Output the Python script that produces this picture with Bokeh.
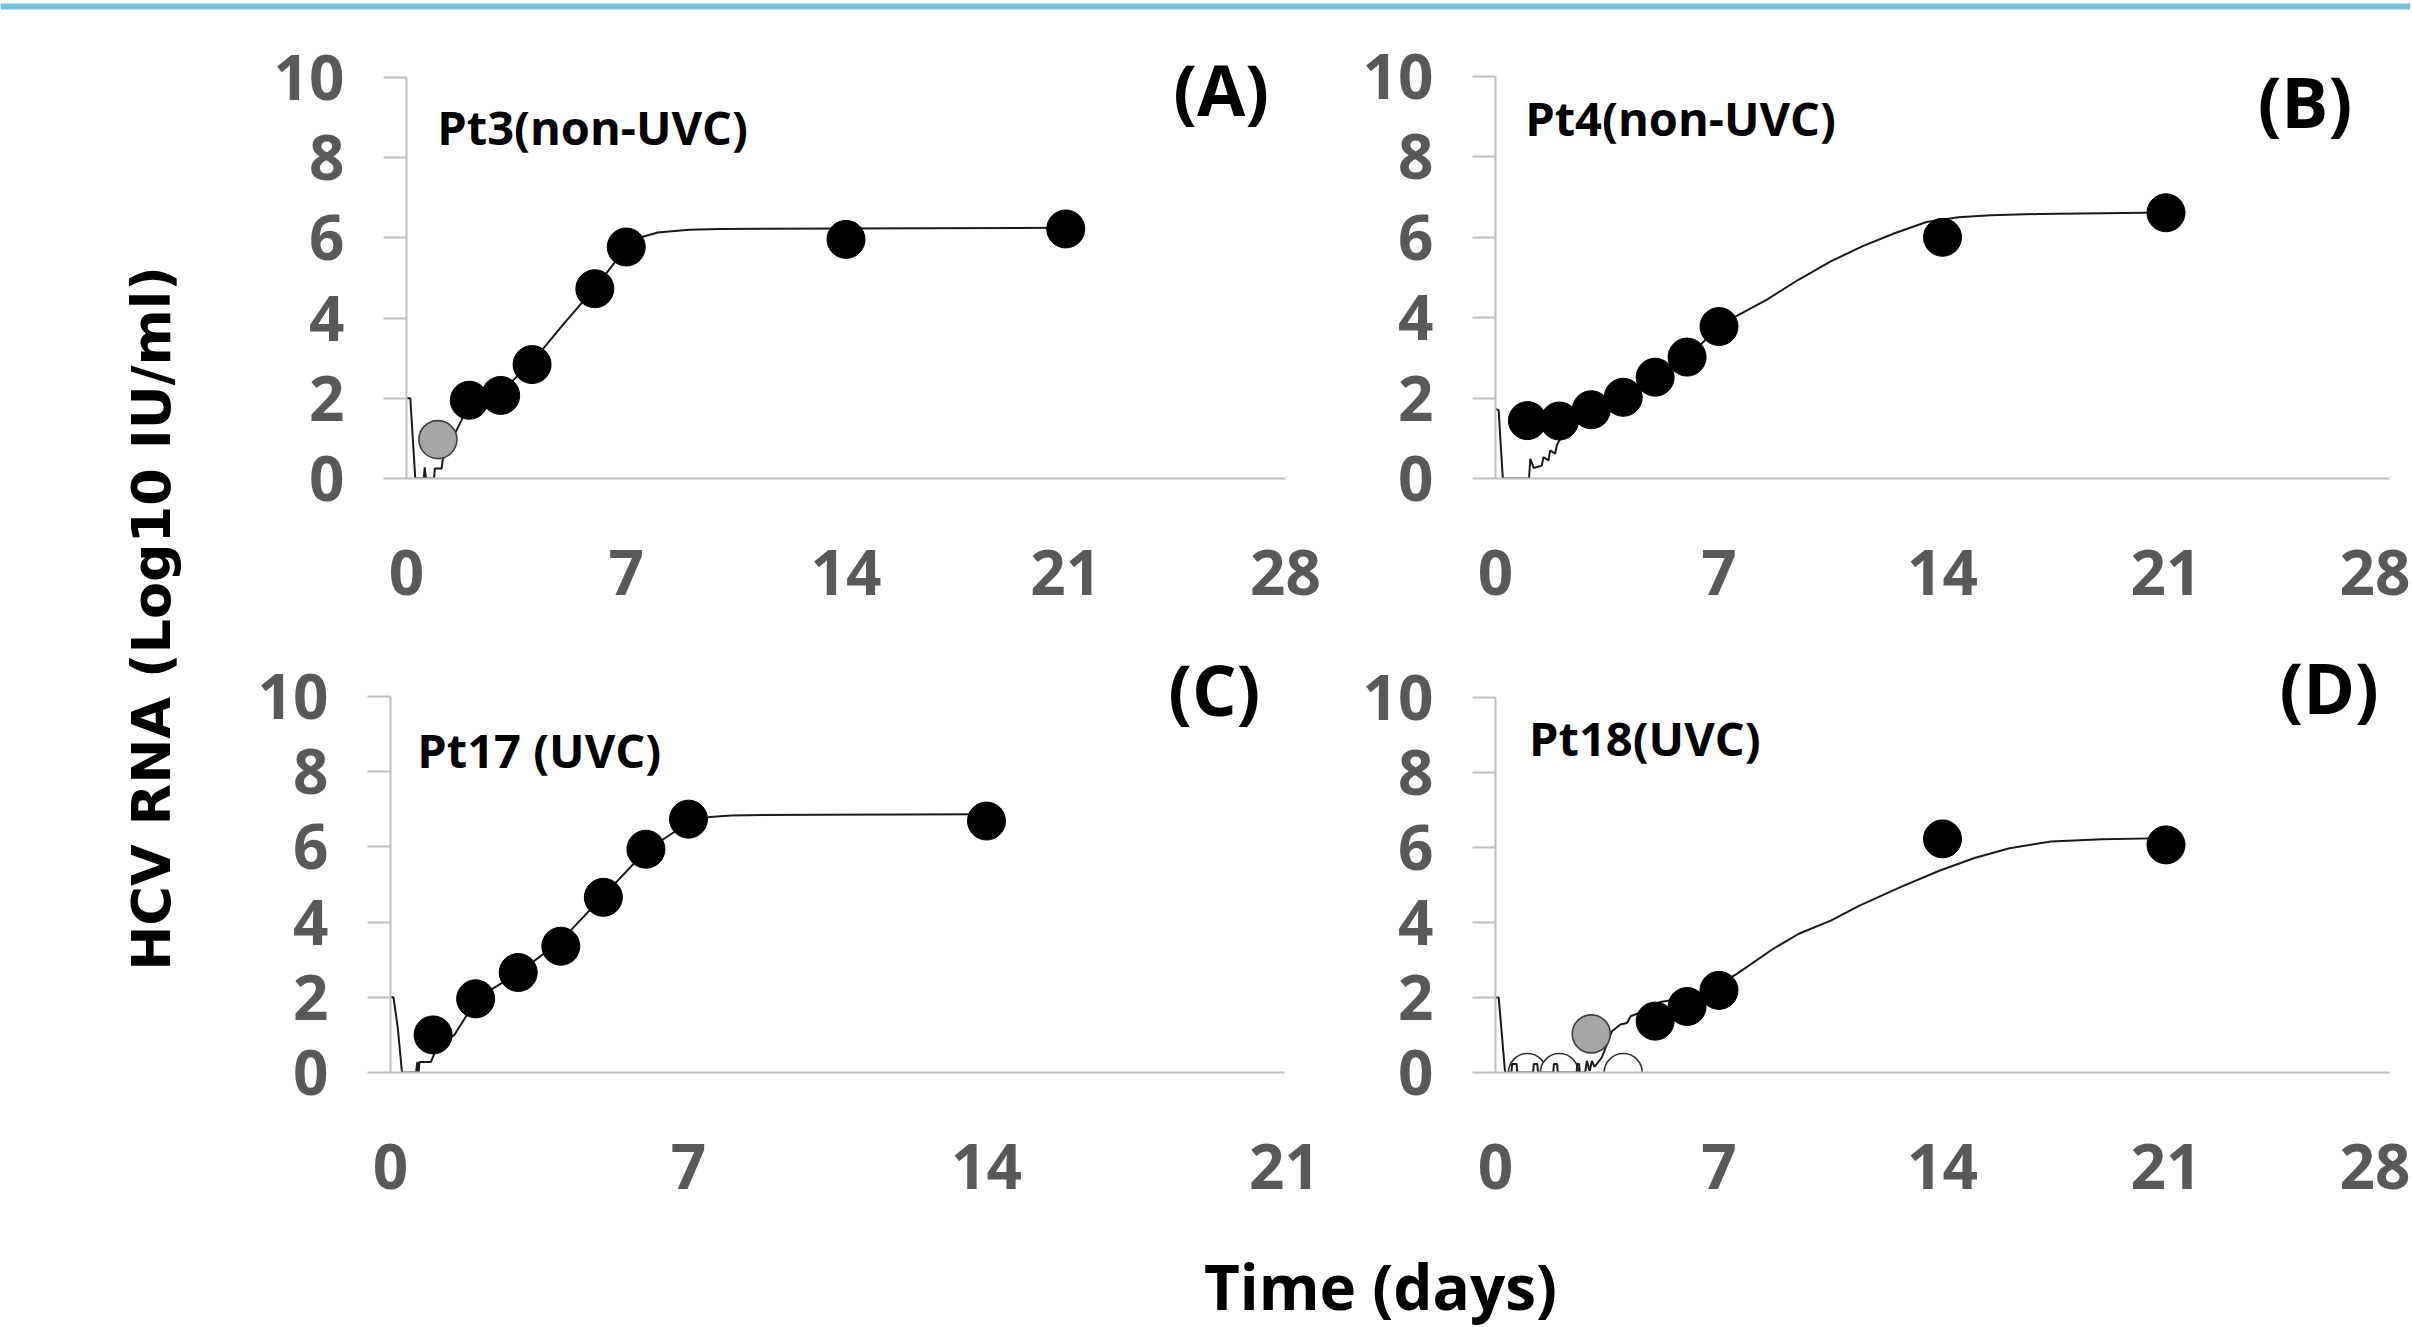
from bokeh.plotting import figure
from bokeh.layouts import column, row
from bokeh.models import Range1d, FixedTicker, Label, BoxAnnotation
from bokeh.embed import file_html
from bokeh.resources import INLINE

# ---------------- data ----------------
x_ticks_28 = [0, 7, 14, 21, 28]
x_ticks_21 = [0, 7, 14, 21]
y_ticks = [0, 2, 4, 6, 8, 10]

# Panel A  Pt3 (non-UVC)
a_black_x = [2, 3, 4, 6, 7, 14, 21]
a_black_y = [1.95, 2.07, 2.84, 4.73, 5.77, 5.96, 6.22]
a_gray_x = [1]
a_gray_y = [0.97]
a_curve_x = [0, 0.12, 0.28, 0.55, 0.58, 0.62, 0.88, 0.9, 1.12, 1.15, 1.4, 1.75, 2.0, 3.0, 4.0, 5.0, 6.0,
             7.0, 7.5, 8.0, 9.0, 10.0, 14.0, 21.0]
a_curve_y = [2.0, 2.0, 0.0, 0.0, 0.28, 0.0, 0.0, 0.25, 0.25, 0.45, 0.9, 1.45, 1.9, 2.15, 2.9, 3.85, 4.75,
             5.75, 6.02, 6.13, 6.2, 6.22, 6.23, 6.25]

# Panel B  Pt4 (non-UVC)
b_black_x = [1, 2, 3, 4, 5, 6, 7, 14, 21]
b_black_y = [1.44, 1.43, 1.71, 2.02, 2.52, 3.02, 3.78, 6.0, 6.61]
b_curve_x = [0, 0.1, 0.15, 0.23, 1.05, 1.09, 1.2, 1.45, 1.5, 1.66, 1.71, 1.87, 1.92, 2.0, 2.5, 3.0, 4.0,
             5.0, 6.0, 7.0, 7.5, 8.5, 9.5, 10.5, 11.5, 12.5, 13.5, 14.5, 15.5, 17.0, 19.0, 21.0]
b_curve_y = [1.73, 1.7, 1.0, 0.0, 0.0, 0.49, 0.26, 0.32, 0.53, 0.45, 0.7, 0.62, 0.82, 0.95, 1.3, 1.65,
             2.05, 2.5, 3.0, 3.78, 4.02, 4.45, 4.95, 5.4, 5.78, 6.1, 6.38, 6.5, 6.55, 6.58, 6.6, 6.62]

# Panel C  Pt17 (UVC)
c_black_x = [1, 2, 3, 4, 5, 6, 7, 14]
c_black_y = [1.0, 1.96, 2.66, 3.36, 4.66, 5.94, 6.74, 6.69]
c_curve_x = [0, 0.07, 0.17, 0.27, 0.6, 0.63, 0.66, 0.68, 0.95, 1.1, 1.5, 1.75, 2.0, 3.0, 4.0, 5.0, 6.0,
             7.0, 7.5, 8.0, 10.0, 14.0]
c_curve_y = [2.0, 2.0, 1.2, 0.0, 0.0, 0.28, 0.0, 0.28, 0.28, 0.7, 1.0, 1.45, 1.95, 2.65, 3.5, 4.7, 5.9,
             6.65, 6.8, 6.84, 6.86, 6.87]

# Panel D  Pt18 (UVC)
d_black_x = [5, 6, 7, 14, 21]
d_black_y = [1.37, 1.76, 2.19, 6.23, 6.07]
d_gray_x = [3]
d_gray_y = [1.03]
d_open_x = [1, 2, 4]
d_open_y = [0, 0, 0]
d_curve_x = [0, 0.1, 0.3, 0.5, 0.52, 0.66, 0.68, 1.18, 1.2, 1.31, 1.33, 1.81, 1.83, 1.93, 1.95, 2.54,
             2.56, 2.62, 2.64, 2.81, 2.86, 2.95, 3.02, 3.1, 3.33, 3.65, 3.91, 4.12, 4.23, 4.54, 4.75,
             5.17, 5.58, 6.0, 6.5, 7.0, 7.56, 8.7, 9.5, 10.5, 11.4, 12.7, 13.9, 15.0, 16.1, 17.4,
             19.0, 21.0]
d_curve_y = [2.0, 2.0, 0.0, 0.0, 0.23, 0.23, 0.0, 0.0, 0.23, 0.23, 0.0, 0.0, 0.23, 0.23, 0.0, 0.0,
             0.23, 0.23, 0.0, 0.0, 0.31, 0.04, 0.31, 0.15, 0.4, 1.1, 1.28, 1.32, 1.5, 1.6, 1.74,
             1.88, 1.94, 2.0, 2.15, 2.35, 2.63, 3.3, 3.7, 4.05, 4.45, 4.95, 5.38, 5.72, 5.98, 6.16,
             6.22, 6.25]

# ---------------- style ----------------
FONT = "Open Sans"
TICK_COLOR = "#595959"
AXIS_COLOR = "#BFBFBF"
BLUE = "#72C3E3"
MARKER = 38


def make_panel(width, height, bl, br, bt, bb, xmax, ymax, xticks,
               cx, cy, bx, by, gx=None, gy=None, ox=None, oy=None,
               name="", name_x=0, name_y=0, letter="", letter_x=0, letter_y=0):
    p = figure(width=width, height=height, output_backend="svg", toolbar_location=None,
               x_range=Range1d(0, xmax), y_range=Range1d(0, ymax),
               min_border_left=bl, min_border_right=br, min_border_top=bt, min_border_bottom=bb)
    p.outline_line_color = None
    p.grid.visible = False
    p.background_fill_color = "white"
    p.border_fill_color = "white"

    p.xaxis.ticker = FixedTicker(ticks=xticks)
    p.yaxis.ticker = FixedTicker(ticks=y_ticks)
    p.yaxis.bounds = (0, 10)
    for ax in (p.xaxis[0], p.yaxis[0]):
        ax.axis_line_color = AXIS_COLOR
        ax.axis_line_width = 2
        ax.major_tick_line_color = AXIS_COLOR
        ax.major_tick_line_width = 2
        ax.minor_tick_line_color = None
        ax.major_tick_in = 0
        ax.major_label_text_font = FONT
        ax.major_label_text_font_style = "bold"
        ax.major_label_text_font_size = "62px"
        ax.major_label_text_color = TICK_COLOR
    p.xaxis.major_tick_out = 0
    p.xaxis.major_label_standoff = 71
    p.yaxis.major_tick_out = 23
    p.yaxis.major_label_standoff = 39

    if ox is not None:
        p.scatter(ox, oy, size=MARKER, marker="circle", fill_color="white",
                  line_color="#333333", line_width=1.6)
    p.line(cx, cy, line_color="#1a1a1a", line_width=2)
    if gx is not None:
        p.scatter(gx, gy, size=MARKER, marker="circle", fill_color="#A6A6A6",
                  line_color="#404040", line_width=1.6)
    p.scatter(bx, by, size=MARKER, marker="circle", fill_color="black", line_color="black")

    p.add_layout(Label(x=name_x, y=name_y, text=name, text_font=FONT, text_font_style="bold",
                       text_font_size="47px", text_color="black", text_align="left",
                       text_baseline="alphabetic"))
    p.add_layout(Label(x=letter_x, y=letter_y, text=letter, text_font=FONT, text_font_style="bold",
                       text_font_size="70px", text_color="black", text_align="center",
                       text_baseline="alphabetic"))
    return p


# row 1: page y 20..630 ; row 2: page y 630..1240
pA = make_panel(1100, 610, 166, 55, 10, 150, 28, 450 / 40.3, x_ticks_28,
                a_curve_x, a_curve_y, a_black_x, a_black_y, gx=a_gray_x, gy=a_gray_y,
                name="Pt3(non-UVC)", name_x=0.98, name_y=8.76,
                letter="(A)", letter_x=25.95, letter_y=9.70)
pB = make_panel(1070, 610, 155, 21, 10, 152, 28, 448 / 40.2, x_ticks_28,
                b_curve_x, b_curve_y, b_black_x, b_black_y,
                name="Pt4(non-UVC)", name_x=0.93, name_y=8.98,
                letter="(B)", letter_x=25.35, letter_y=9.38)
pC = make_panel(1100, 610, 150, 56, 10, 161, 21, 439 / 38.2, x_ticks_21,
                c_curve_x, c_curve_y, c_black_x, c_black_y,
                name="Pt17 (UVC)", name_x=0.63, name_y=8.59,
                letter="(C)", letter_x=19.35, letter_y=10.21)
pD = make_panel(1070, 610, 155, 21, 10, 168, 28, 432 / 37.5, x_ticks_28,
                d_curve_x, d_curve_y, d_black_x, d_black_y, gx=d_gray_x, gy=d_gray_y,
                ox=d_open_x, oy=d_open_y,
                name="Pt18(UVC)", name_x=1.05, name_y=8.91,
                letter="(D)", letter_x=26.11, letter_y=10.27)


def blank(width, height):
    f = figure(width=width, height=height, output_backend="svg", toolbar_location=None,
               title=None, x_range=Range1d(0, width), y_range=Range1d(0, height),
               x_axis_type=None, y_axis_type=None,
               min_border_left=0, min_border_right=0, min_border_top=0, min_border_bottom=0)
    f.outline_line_color = None
    f.grid.visible = False
    f.background_fill_color = "white"
    f.border_fill_color = "white"
    return f


top_bar = blank(2410, 20)
top_bar.add_layout(BoxAnnotation(bottom=11, top=17, left=0, right=2410,
                                 fill_color=BLUE, fill_alpha=1.0, line_color=None))

y_title = blank(240, 1220)
y_title.add_layout(Label(x=151, y=622, text="HCV RNA (Log10 IU/ml)", angle=90, angle_units="deg",
                         text_font="DejaVu Sans", text_font_style="bold", text_font_size="54px",
                         text_color="black", text_align="center", text_baseline="middle"))

x_title = blank(2410, 87)
x_title.add_layout(Label(x=1380, y=42, text="Time (days)", text_font=FONT, text_font_style="bold",
                         text_font_size="62px", text_color="black", text_align="center",
                         text_baseline="alphabetic"))

layout = column(top_bar,
                row(y_title, column(row(pA, pB), row(pC, pD))),
                x_title)

open("out.html", "w").write(file_html(layout, INLINE))
